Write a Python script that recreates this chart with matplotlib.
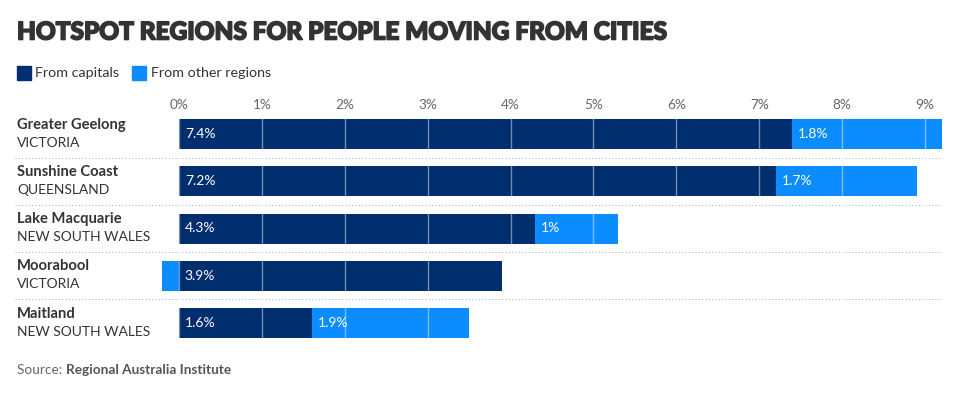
import matplotlib
matplotlib.use("Agg")
import matplotlib.pyplot as plt
import matplotlib.patheffects as pe
from matplotlib.patches import Rectangle

# data
regions = ["Greater Geelong", "Sunshine Coast", "Lake Macquarie", "Moorabool", "Maitland"]
states = ["VICTORIA", "QUEENSLAND", "NEW SOUTH WALES", "VICTORIA", "NEW SOUTH WALES"]
from_capitals = [7.4, 7.2, 4.3, 3.9, 1.6]
from_other = [1.8, 1.7, 1.0, -0.2, 1.9]
ticks = [0, 1, 2, 3, 4, 5, 6, 7, 8, 9]

dark = "#012e6f"
light = "#0b8cff"
text_col = "#333333"

plt.rcParams["font.family"] = ["Lato", "DejaVu Sans"]

W, H = 954, 393
fig = plt.figure(figsize=(W / 100, H / 100), dpi=100)

# axes placed in pixel terms: 0% at x=179, ~83 px per percent
ax = fig.add_axes([15 / W, (H - 345) / H, 930 / W, 235 / H])
px_per = 82.9
ax.set_xlim((15 - 179) / px_per, (945 - 179) / px_per)
ax.set_ylim((345 - 134) / 47.25, (110 - 134) / 47.25)
for s in ax.spines.values():
    s.set_visible(False)

ys = list(range(len(regions)))
bh = 30 / 47.25
ax.barh(ys, from_capitals, height=bh, color=dark, zorder=2)
other_left = [c if o > 0 else 0 for c, o in zip(from_capitals, from_other)]
ax.barh(ys, from_other, left=other_left, height=bh, color=light, zorder=2)

# grid lines visible only over the bars
for t in ticks:
    ax.axvline(t, color="white", alpha=0.45, lw=1, zorder=3)

ax.xaxis.tick_top()
ax.set_xticks(ticks)
ax.set_xticklabels([f"{t}%" for t in ticks], fontsize=9.8, color="#666666")
ax.tick_params(axis="x", length=0, pad=-1)
ax.set_yticks([])

label_x = (17 - 179) / px_per
for i in ys:
    ax.text(label_x, i - 0.2, regions[i], fontsize=10.6, fontweight="bold",
            color=text_col, va="center", ha="left")
    ax.text(label_x, i + 0.18, states[i], fontsize=10, color=text_col,
            va="center", ha="left")
    ax.text(0.07, i, f"{from_capitals[i]:g}%", color="white", fontsize=10,
            va="center", ha="left", zorder=4)
    if from_other[i] > 0:
        ax.text(from_capitals[i] + 0.07, i, f"{from_other[i]:g}%", color="white",
                fontsize=10, va="center", ha="left", zorder=4)
    if i < len(regions) - 1:
        ax.plot([label_x - 0.03, (940 - 179) / px_per], [i + 0.5, i + 0.5],
                color="#bbbbbb", lw=0.8, ls=(0, (1, 2)), clip_on=False, zorder=1)

# title
fig.text(17 / W, 1 - 32 / H, "HOTSPOT REGIONS FOR PEOPLE MOVING FROM CITIES",
         fontsize=17.6, fontweight="black", color=text_col, va="center", ha="left",
         path_effects=[pe.withStroke(linewidth=1.2, foreground=text_col)])

# legend
fig.patches.append(Rectangle((17 / W, 1 - 80 / H), 14 / W, 14 / H, color=dark,
                             transform=fig.transFigure, figure=fig))
fig.text(35 / W, 1 - 73 / H, "From capitals", fontsize=10.3, color=text_col,
         va="center", ha="left")
fig.patches.append(Rectangle((132 / W, 1 - 80 / H), 14 / W, 14 / H, color=light,
                             transform=fig.transFigure, figure=fig))
fig.text(151 / W, 1 - 73 / H, "From other regions", fontsize=10.3, color=text_col,
         va="center", ha="left")

# source
src = fig.text(17 / W, 1 - 370 / H, "Source: ", fontsize=9.8, color="#666666",
               va="center", ha="left")
ax.annotate("Regional Australia Institute", xy=(1, 0.5), xycoords=src,
            va="center", ha="left", fontsize=9.8, color="#555555", fontweight="bold")

fig.savefig("out.png", dpi=100)
